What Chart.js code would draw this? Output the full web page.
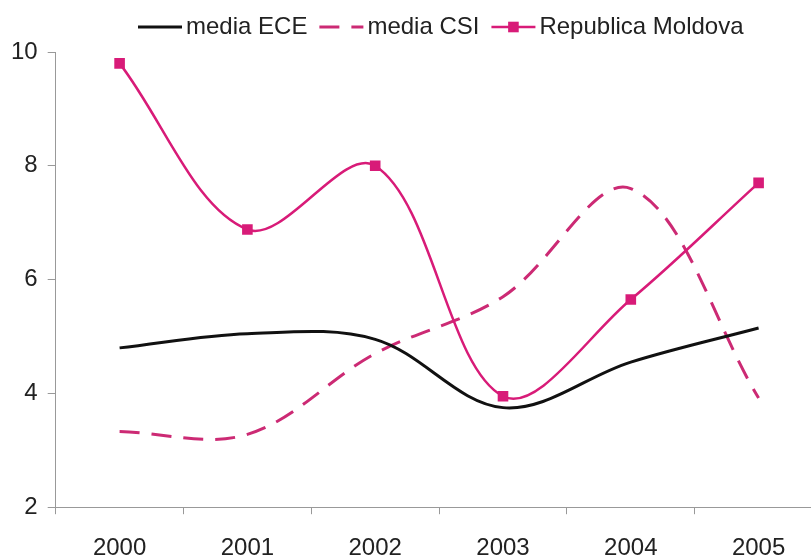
<!DOCTYPE html>
<html lang="ro">
<head>
  <meta charset="UTF-8">
  <title>media ECE / media CSI / Republica Moldova</title>
  <script src="https://cdn.jsdelivr.net/npm/chart.js"></script>
  <style>
    html, body { margin: 0; padding: 0; background: #fff; overflow: hidden; }
    /* the plot runs a little past the right edge of the window, as in the original */
    .wrap { position: relative; width: 830px; height: 559px; }
  </style>
</head>
<body>
  <div class="wrap"><canvas id="chart"></canvas></div>

  <script>
    // values
    const years = ['2000', '2001', '2002', '2003', '2004', '2005'];
    const mediaECE = [4.8, 5.05, 4.95, 3.75, 4.55, 5.15];
    const mediaCSI = [3.33, 3.28, 4.7, 5.7, 7.6, 3.92];
    const moldova = [9.8, 6.88, 8.0, 3.95, 5.65, 7.7];
    const yTicks = [2, 4, 6, 8, 10];

    const FONT = '"Liberation Sans", Arial, Helvetica, sans-serif';
    const MAGENTA = '#d81b78';
    const MAGENTA_DASH = '#cc2a74';

    // legend row: line sample + label, drawn from the datasets
    const lineLegend = {
      id: 'lineLegend',
      afterDraw(chart, args, opts) {
        const ctx = chart.ctx;
        let x = opts.x;
        const y = opts.y;
        ctx.save();
        ctx.font = opts.fontSize + 'px ' + FONT;
        ctx.textBaseline = 'middle';
        chart.data.datasets.forEach(ds => {
          ctx.strokeStyle = ds.borderColor;
          ctx.lineWidth = ds.borderWidth;
          ctx.setLineDash(ds.borderDash || []);
          ctx.beginPath();
          ctx.moveTo(x, y);
          ctx.lineTo(x + opts.lineLength, y);
          ctx.stroke();
          ctx.setLineDash([]);
          if (ds.pointRadius > 0) {
            ctx.fillStyle = ds.pointBackgroundColor;
            Chart.helpers.drawPoint(ctx, { pointStyle: ds.pointStyle, radius: ds.pointRadius, borderWidth: 0, rotation: 0 }, x + opts.lineLength / 2, y);
          }
          x += opts.lineLength + opts.textGap;
          ctx.fillStyle = opts.color;
          ctx.fillText(ds.label, x, y);
          x += ctx.measureText(ds.label).width + opts.itemGap;
        });
        ctx.restore();
      }
    };

    new Chart('chart', {
      type: 'line',
      data: {
        labels: years,
        datasets: [
          { label: 'media ECE', data: mediaECE, borderColor: '#111', borderWidth: 3, pointRadius: 0, tension: 0.35, order: 2 },
          { label: 'media CSI', data: mediaCSI, borderColor: MAGENTA_DASH, borderWidth: 3, borderDash: [20, 12], pointRadius: 0, tension: 0.35, order: 3 },
          { label: 'Republica Moldova', data: moldova, borderColor: MAGENTA, borderWidth: 2.5, pointStyle: 'rect', pointRadius: 7.5,
            pointBackgroundColor: MAGENTA, pointBorderWidth: 0, tension: 0.35, order: 1 }
        ]
      },
      options: {
        responsive: true,
        maintainAspectRatio: false,
        animation: false,
        layout: { padding: { top: 52, left: 1, right: 6, bottom: -24 } },
        scales: {
          x: {
            offset: true,
            grid: { offset: true, drawOnChartArea: false, drawTicks: true, tickLength: 7, color: '#999' },
            border: { color: '#999', width: 1 },
            ticks: { color: '#222', padding: 20, font: { family: FONT, size: 24 } }
          },
          y: {
            min: 2,
            max: 10,
            afterBuildTicks: scale => { scale.ticks = yTicks.map(v => ({ value: v })); },
            grid: { drawOnChartArea: false, drawTicks: true, tickLength: 8, color: '#999' },
            border: { color: '#999', width: 1 },
            ticks: { color: '#222', padding: 10, font: { family: FONT, size: 24 } }
          }
        },
        plugins: {
          legend: { display: false },
          tooltip: { enabled: false },
          lineLegend: { x: 138, y: 27, fontSize: 24, lineLength: 44, textGap: 4, itemGap: 12, color: '#222' }
        }
      },
      plugins: [lineLegend]
    });
  </script>
</body>
</html>
